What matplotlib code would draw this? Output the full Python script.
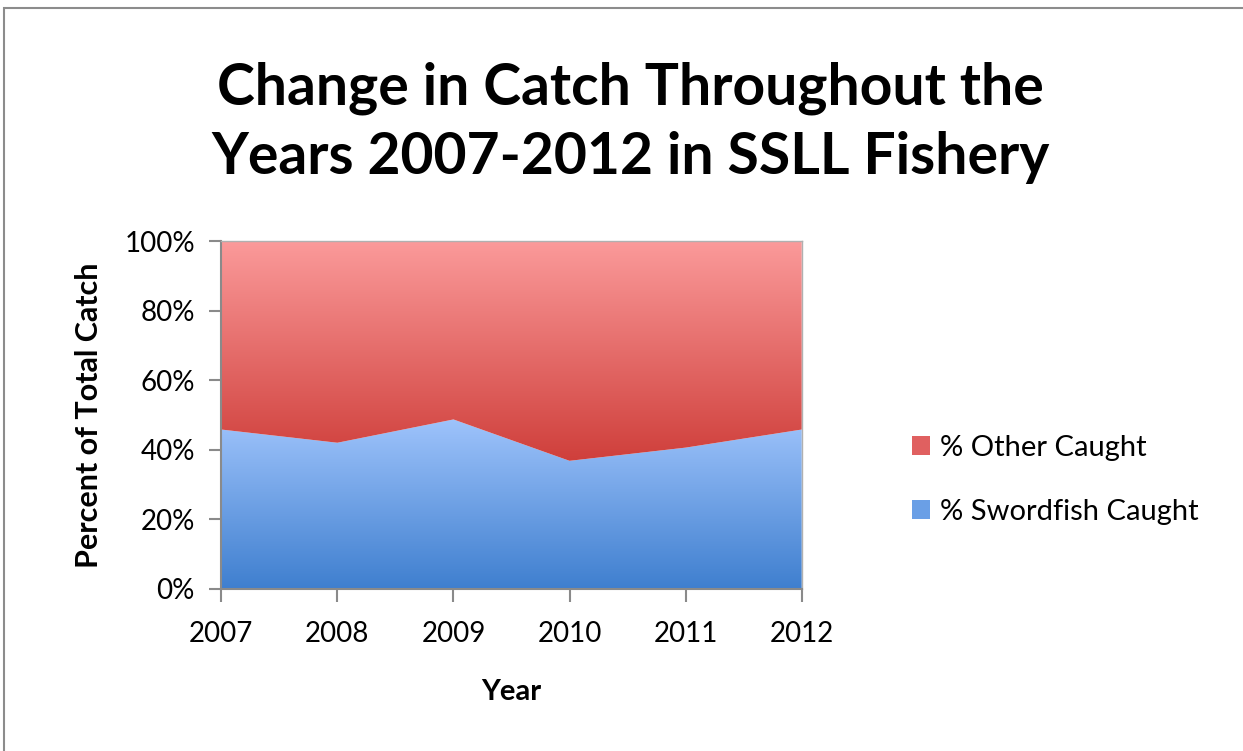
import matplotlib.pyplot as plt
import numpy as np
from matplotlib.colors import LinearSegmentedColormap
from matplotlib.patches import Patch, Rectangle
from matplotlib.ticker import PercentFormatter

plt.rcParams['font.family'] = ['Lato', 'DejaVu Sans']

# data (percent of total catch)
years = [2007, 2008, 2009, 2010, 2011, 2012]
swordfish = [45.8, 42.0, 48.7, 36.8, 40.6, 45.8]
other = [100 - s for s in swordfish]

title = "Change in Catch Throughout the\nYears 2007-2012 in SSLL Fishery"
labels = ["% Swordfish Caught", "% Other Caught"]

blue_top, blue_bot = "#9ec3fb", "#3f7fcf"
red_top, red_bot = "#fb9a9a", "#cf3f3b"

fig = plt.figure(figsize=(12.43, 7.51), dpi=100)
ax = fig.add_axes([0.178, 0.216, 0.467, 0.463])

x = np.array(years, dtype=float)
low = np.zeros(len(x))
mid = np.array(swordfish)
top = mid + np.array(other)


def grad_fill(y0, y1, c_top, c_bot):
    poly = ax.fill_between(x, y0, y1, color="none", lw=0)
    cmap = LinearSegmentedColormap.from_list("g", [c_bot, c_top])
    ymin, ymax = y0.min(), y1.max()
    g = np.linspace(0, 1, 256).reshape(-1, 1)
    im = ax.imshow(g, cmap=cmap, aspect="auto", origin="lower",
                   extent=[x[0], x[-1], ymin, ymax], zorder=1)
    im.set_clip_path(poly.get_paths()[0], transform=ax.transData)


grad_fill(low, mid, blue_top, blue_bot)
grad_fill(mid, top, red_top, red_bot)

ax.set_xlim(years[0], years[-1])
ax.set_ylim(0, 100)
ax.set_xticks(years)
ax.set_yticks(range(0, 101, 20))
ax.yaxis.set_major_formatter(PercentFormatter(decimals=0))
ax.tick_params(direction="out", length=9, width=1.5, color="#8a8a8a",
               labelsize=20)
ax.tick_params(axis="x", pad=14)
ax.tick_params(axis="y", pad=10)
for s in ["left", "bottom"]:
    ax.spines[s].set_color("#8a8a8a")
    ax.spines[s].set_linewidth(1.5)
for s in ["top", "right"]:
    ax.spines[s].set_color("#b0b0b0")
    ax.spines[s].set_linewidth(1)
ax.set_xlabel("Year", fontsize=21, fontweight="bold", labelpad=23)
ax.set_ylabel("Percent of Total Catch", fontsize=22, fontweight="bold", labelpad=15)

fig.suptitle(title, x=0.507, y=0.918, fontsize=41, fontweight="bold",
             linespacing=1.38, va="top")

handles = [Patch(facecolor="#e06060", edgecolor="none"),
           Patch(facecolor="#6a9fe6", edgecolor="none")]
fig.legend(handles, [labels[1], labels[0]], loc="center left",
           bbox_to_anchor=(0.722, 0.361), frameon=False, fontsize=21,
           handlelength=0.6, handleheight=0.6, handletextpad=0.35,
           labelspacing=1.3, borderpad=0)

# outer chart frame
fig.patches.append(Rectangle((0.0035, -0.05), 1.1, 1.04, transform=fig.transFigure,
                             fill=False, edgecolor="#8c8c8c", lw=1.5))

fig.savefig("out.png", dpi=100)
